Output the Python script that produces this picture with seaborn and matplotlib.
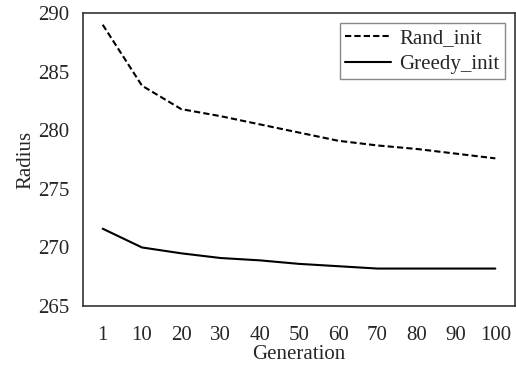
import matplotlib
matplotlib.use('Agg')
import seaborn as sns
import pandas as pd
import matplotlib.pyplot as plt

generations = ["1", "10", "20", "30", "40", "50", "60", "70", "80", "90", "100"]
rand_init = [289.0, 283.8, 281.8, 281.2, 280.5, 279.8, 279.1, 278.7, 278.4, 278.0, 277.6]
greedy_init = [271.6, 270.0, 269.5, 269.1, 268.9, 268.6, 268.4, 268.2, 268.2, 268.2, 268.2]

sns.set_style("white")
plt.rcParams['font.family'] = ['Liberation Serif', 'DejaVu Serif']
plt.rcParams['font.size'] = 15

df = pd.DataFrame({"Generation": generations * 2,
                   "Radius": rand_init + greedy_init,
                   "series": ["Rand_init"] * len(generations) + ["Greedy_init"] * len(generations)})

fig, ax = plt.subplots(figsize=(5.16, 3.71), dpi=100)
fig.subplots_adjust(left=0.161, right=0.998, top=0.965, bottom=0.175)

sns.lineplot(data=df, x="Generation", y="Radius", hue="series", style="series",
             palette=["black", "black"], dashes=[(3, 1.5), ""], linewidth=1.5,
             sort=False, ax=ax)

ax.set_xlim(-0.5, len(generations) - 0.5)
ax.set_ylim(265, 290)
ax.set_yticks([265, 270, 275, 280, 285, 290])
ax.tick_params(axis='x', length=0, pad=14, labelsize=15)
ax.tick_params(axis='y', length=0, pad=10, labelsize=15)
ax.set_xlabel("Generation", fontsize=15, labelpad=0)
ax.set_ylabel("Radius", fontsize=15, labelpad=2)
for s in ax.spines.values():
    s.set_color("#333333")
    s.set_linewidth(1.2)

leg = ax.legend(title=None, loc="upper right", fontsize=15, handlelength=2.2,
                fancybox=False, framealpha=1, edgecolor="#888888",
                borderpad=0.25, labelspacing=0.3, handletextpad=0.4,
                borderaxespad=0.5)
leg.get_frame().set_linewidth(1.0)

fig.savefig("out.png", dpi=100)
